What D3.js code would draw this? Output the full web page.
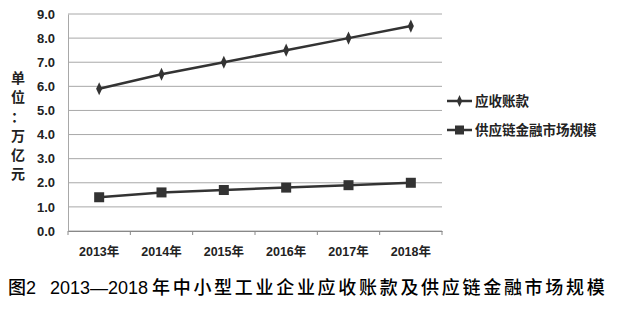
<!DOCTYPE html>
<html>
<head>
<meta charset="utf-8">
<script src="https://cdn.jsdelivr.net/npm/d3@7"></script>
<style>
  body { margin: 0; background: #fff; }
  text { font-family: "Liberation Sans", Arial, "Noto Sans CJK SC", sans-serif; }
</style>
</head>
<body>
<div id="viz"></div>
<script>
// data
const years = ['2013年', '2014年', '2015年', '2016年', '2017年', '2018年'];
const receivables = [5.9, 6.5, 7.0, 7.5, 8.0, 8.5];
const scfMarket = [1.4, 1.6, 1.7, 1.8, 1.9, 2.0];
const seriesNames = ['应收账款', '供应链金融市场规模'];
const yTicks = [0, 1, 2, 3, 4, 5, 6, 7, 8, 9];

const width = 620;
const height = 314;
const margin = {top: 14, right: 178, bottom: 83, left: 68};
const innerW = width - margin.left - margin.right;
const innerH = height - margin.top - margin.bottom;
const lineColor = '#333';

const svg = d3.select('#viz').append('svg')
    .attr('width', width)
    .attr('height', height);

const g = svg.append('g')
    .attr('transform', `translate(${margin.left},${margin.top})`);

// scales
const x = d3.scaleBand().domain(years).range([0, innerW]);
const y = d3.scaleLinear().domain([0, 9]).range([innerH, 0]);

// grid
g.append('g').selectAll('line')
    .data(yTicks)
    .join('line')
        .attr('x1', 0).attr('x2', innerW)
        .attr('y1', d => y(d)).attr('y2', d => y(d))
        .attr('stroke', '#a8a8a8')
        .attr('stroke-width', 1);

// y axis
const yAxis = g.append('g')
    .call(d3.axisLeft(y).tickValues(yTicks).tickFormat(d3.format('.1f')).tickSize(0).tickPadding(13));
yAxis.select('.domain').attr('stroke', '#a8a8a8');
yAxis.selectAll('text')
    .attr('font-size', 13).attr('font-weight', 'bold').attr('fill', '#222')
    .style('font-family', '"Liberation Sans", Arial, sans-serif');

// x axis
const xAxis = g.append('g')
    .attr('transform', `translate(0,${innerH})`)
    .call(d3.axisBottom(x).tickSize(0).tickPadding(16));
xAxis.select('.domain').attr('stroke', '#888');
xAxis.selectAll('text')
    .attr('font-size', 12.5).attr('font-weight', 'bold').attr('fill', '#222');
// tick marks at band edges
g.append('g').selectAll('line')
    .data(years.concat(['end']))
    .join('line')
        .attr('x1', (d, i) => i * x.step()).attr('x2', (d, i) => i * x.step())
        .attr('y1', innerH).attr('y2', innerH + 4)
        .attr('stroke', '#888');

const cx = d => x(d) + x.bandwidth() / 2;
const line = d3.line().x((d, i) => cx(years[i])).y(d => y(d));

// series 1: diamonds
g.append('path')
    .datum(receivables)
    .attr('d', line)
    .attr('fill', 'none')
    .attr('stroke', lineColor)
    .attr('stroke-width', 2.5);
g.append('g').selectAll('path')
    .data(receivables)
    .join('path')
        .attr('d', d3.symbol(d3.symbolDiamond, 50))
        .attr('transform', (d, i) => `translate(${cx(years[i])},${y(d)}) scale(0.8,1)`)
        .attr('fill', lineColor);

// series 2: squares
g.append('path')
    .datum(scfMarket)
    .attr('d', line)
    .attr('fill', 'none')
    .attr('stroke', lineColor)
    .attr('stroke-width', 2.5);
g.append('g').selectAll('rect')
    .data(scfMarket)
    .join('rect')
        .attr('x', (d, i) => cx(years[i]) - 5)
        .attr('y', d => y(d) - 5)
        .attr('width', 10).attr('height', 10)
        .attr('fill', lineColor);

// legend
const legend = svg.append('g').attr('transform', 'translate(447,0)');
const legendY = [101, 130];
legendY.forEach((ly, i) => {
  legend.append('line')
      .attr('x1', 0).attr('x2', 25).attr('y1', ly).attr('y2', ly)
      .attr('stroke', lineColor).attr('stroke-width', 2.5);
  if (i === 0) {
    legend.append('path')
        .attr('d', d3.symbol(d3.symbolDiamond, 40))
        .attr('transform', `translate(12.5,${ly}) scale(0.8,1)`)
        .attr('fill', lineColor);
  } else {
    legend.append('rect')
        .attr('x', 8).attr('y', ly - 4.5).attr('width', 9).attr('height', 9)
        .attr('fill', lineColor);
  }
  legend.append('text')
      .attr('x', 28).attr('y', ly)
      .attr('dy', '0.35em')
      .attr('font-size', 13.5).attr('font-weight', 'bold').attr('fill', '#222')
      .text(seriesNames[i]);
});

// vertical y title
const titleChars = ['单', '位', '：', '万', '亿', '元'];
svg.append('g').selectAll('text')
    .data(titleChars)
    .join('text')
        .attr('x', 18)
        .attr('y', (d, i) => 78 + i * 19.3)
        .attr('text-anchor', 'middle')
        .attr('dy', '0.35em')
        .attr('font-size', 14).attr('font-weight', 'bold').attr('fill', '#222')
        .text(d => d);

// caption, split so the spacing matches the print
const caption = svg.append('text')
    .attr('y', 288)
    .attr('dy', '0.35em')
    .attr('font-size', 18)
    .attr('font-weight', 500)
    .attr('fill', '#000');
caption.append('tspan').attr('x', 8).text('图2');
caption.append('tspan').attr('x', 50).text('2013—2018');
caption.append('tspan').attr('x', 152).attr('letter-spacing', 2.7)
    .text('年中小型工业企业应收账款及供应链金融市场规模');
</script>
</body>
</html>
